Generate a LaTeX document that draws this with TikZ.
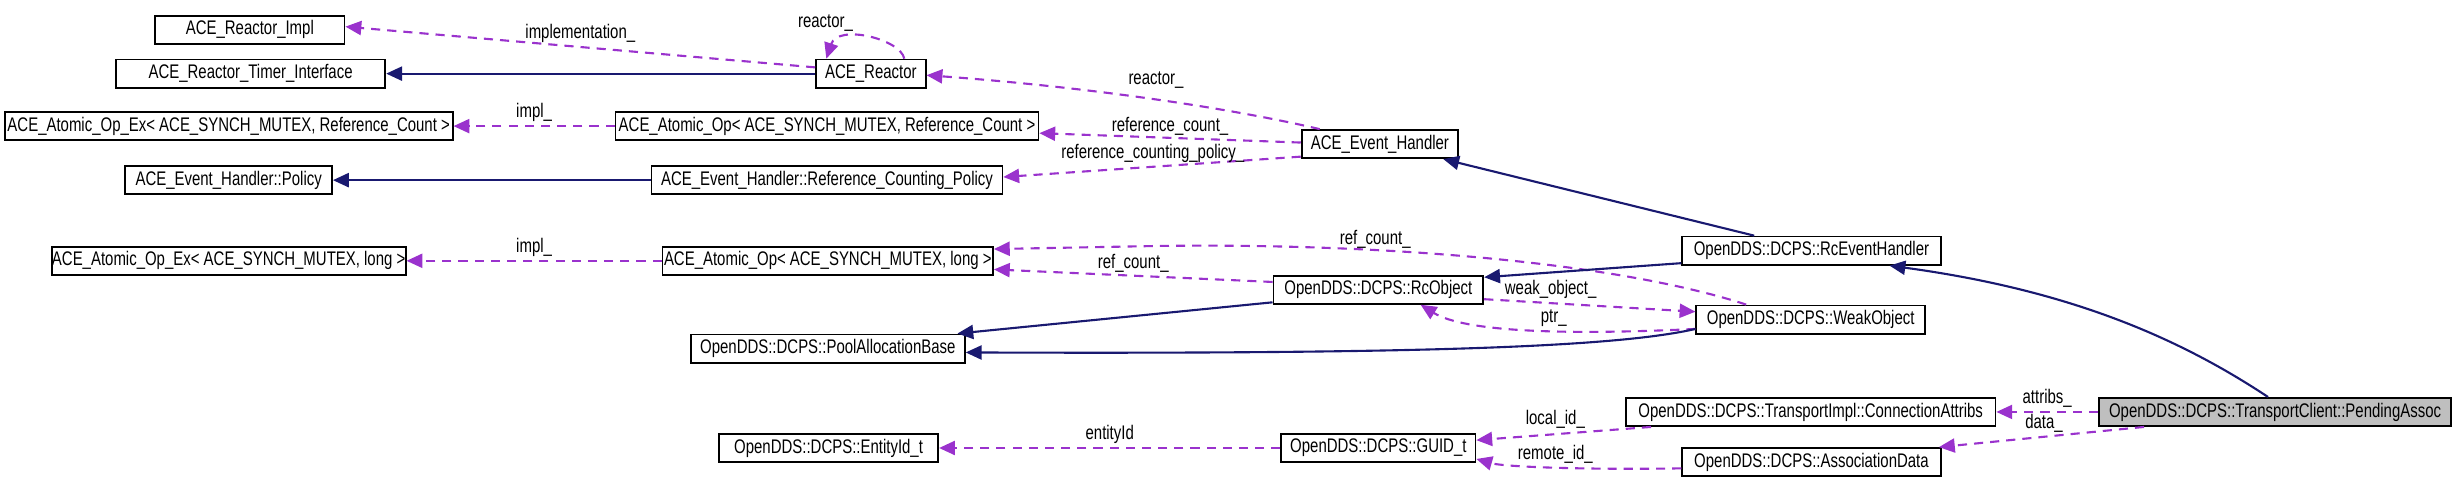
\documentclass[tikz,border=0pt]{standalone}
\usepackage{fontspec}
\setmainfont{Liberation Sans}[FakeStretch=0.76]
\usetikzlibrary{arrows.meta,calc}
\definecolor{nv}{HTML}{191970}
\definecolor{pu}{HTML}{9A32CD}
\begin{document}
\begin{tikzpicture}[x=0.1566mm,y=-0.1566mm,
  every node/.style={font=\fontsize{5.6}{6}\selectfont,inner sep=0pt},
  box/.style={draw=black,line width=0.5pt,minimum height=18*0.1566mm,fill=white},
  inh/.style={draw=nv,line width=0.6pt,-{Triangle[length=4.5pt,width=4pt]}},
  use/.style={draw=pu,line width=0.6pt,dash pattern=on 2.6pt off 2pt,-{Triangle[length=4.5pt,width=4pt]}},
  lab/.style={fill=none}]
\useasboundingbox (0,0) rectangle (1568,311);
% nodes
\node[box,minimum width=121*0.1566mm] (impl) at (159.5,19) {ACE\_Reactor\_Impl};
\node[box,minimum width=172*0.1566mm] (tim) at (160,47) {ACE\_Reactor\_Timer\_Interface};
\node[box,minimum width=70*0.1566mm] (rea) at (556,47) {ACE\_Reactor};
\node[box,minimum width=286*0.1566mm] (exrc) at (146,80.5) {ACE\_Atomic\_Op\_Ex< ACE\_SYNCH\_MUTEX, Reference\_Count >};
\node[box,minimum width=270*0.1566mm] (oprc) at (528,80.5) {ACE\_Atomic\_Op< ACE\_SYNCH\_MUTEX, Reference\_Count >};
\node[box,minimum width=100*0.1566mm] (eh) at (881,92) {ACE\_Event\_Handler};
\node[box,minimum width=132*0.1566mm] (pol) at (146,115) {ACE\_Event\_Handler::Policy};
\node[box,minimum width=224*0.1566mm] (rcp) at (528,115) {ACE\_Event\_Handler::Reference\_Counting\_Policy};
\node[box,minimum width=226*0.1566mm] (exl) at (146,166.5) {ACE\_Atomic\_Op\_Ex< ACE\_SYNCH\_MUTEX, long >};
\node[box,minimum width=211*0.1566mm] (opl) at (528.5,166.5) {ACE\_Atomic\_Op< ACE\_SYNCH\_MUTEX, long >};
\node[box,minimum width=165*0.1566mm] (rceh) at (1156.5,160) {OpenDDS::DCPS::RcEventHandler};
\node[box,minimum width=134*0.1566mm] (rco) at (880,185) {OpenDDS::DCPS::RcObject};
\node[box,minimum width=146*0.1566mm] (wo) at (1156,204) {OpenDDS::DCPS::WeakObject};
\node[box,minimum width=175*0.1566mm] (pab) at (528.5,222.5) {OpenDDS::DCPS::PoolAllocationBase};
\node[box,minimum width=140*0.1566mm] (eid) at (529,286) {OpenDDS::DCPS::EntityId\_t};
\node[box,minimum width=124*0.1566mm] (guid) at (880,286) {OpenDDS::DCPS::GUID\_t};
\node[box,minimum width=236*0.1566mm] (ca) at (1156,263) {OpenDDS::DCPS::TransportImpl::ConnectionAttribs};
\node[box,minimum width=165*0.1566mm] (ad) at (1156.5,295) {OpenDDS::DCPS::AssociationData};
\node[box,minimum width=225*0.1566mm,fill=black!25] (pa) at (1452.5,263) {OpenDDS::DCPS::TransportClient::PendingAssoc};
% edges
\draw[use] (rea.west|-0,43) -- (impl.east|-0,17) node[lab,midway,above=1pt] {implementation\_};
\draw[inh] (rea) -- (tim);
\draw[use] ($(rea.north west)!0.8!(rea.north east)$) .. controls (575,25) and (535,15) .. ($(rea.north west)!0.1!(rea.north east)$);
\node at (527,15) {reactor\_};
\draw[use] ($(eh.north west)!0.12!(eh.north east)$) .. controls (790,70) and (700,56) .. (rea.east|-0,48);
\node at (738,51) {reactor\_};
\draw[use] (oprc) -- (exrc) node[lab,midway,above=1pt] {impl\_};
\draw[use] (eh.west|-0,91) -- (oprc.east|-0,85) node[lab,midway,above=0.5pt] {reference\_count\_};
\draw[use] (eh.west|-0,100) -- (rcp.east|-0,113);
\node at (736,98) {reference\_counting\_policy\_};
\draw[inh] (rcp) -- (pol);
\draw[use] (opl) -- (exl) node[lab,midway,above=1pt] {impl\_};
\draw[use] ($(wo.north west)!0.22!(wo.north east)$) .. controls (1040,170) and (900,155) .. (740,157) -- (opl.east|-0,159);
\node at (878,153) {ref\_count\_};
\draw[use] (rco.west|-0,180) -- (opl.east|-0,172) node[lab,midway,above=0.5pt] {ref\_count\_};
\draw[inh] (rceh.west|-0,168) -- (rco.east|-0,177);
\draw[inh] ($(rceh.north west)!0.28!(rceh.north east)$) -- ($(eh.south west)!0.9!(eh.south east)$);
\draw[inh] ($(pa.north west)!0.48!(pa.north east)$) .. controls (1390,215) and (1320,185) .. ($(rceh.south west)!0.8!(rceh.south east)$);
\draw[use] (rco.east|-0,191) -- (wo.west|-0,199);
\node at (990,185) {weak\_object\_};
\draw[use] (wo.west|-0,210) .. controls (1000,214) and (935,212) .. ($(rco.south west)!0.7!(rco.south east)$);
\node at (992,203) {ptr\_};
\draw[inh] (rco.west|-0,193) -- ($(pab.north west)!0.97!(pab.north east)$);
\draw[inh] (wo.west|-0,210) .. controls (1030,222) and (900,226) .. (pab.east|-0,225);
\draw[use] (pa.west) -- (ca.east) node[lab,midway,above=1pt] {attribs\_};
\draw[use] ($(pa.south west)!0.13!(pa.south east)$) -- ($(ad.north west)!0.99!(ad.north east)$);
\node at (1305,270) {data\_};
\draw[use] ($(ca.south west)!0.07!(ca.south east)$) -- (guid.east|-0,281);
\node at (993,268) {local\_id\_};
\draw[use] (ad.west|-0,299) .. controls (1010,300) and (960,298) .. (guid.east|-0,293);
\node at (993,290) {remote\_id\_};
\draw[use] (guid) -- (eid) node[lab,midway,above=1pt] {entityId};
\end{tikzpicture}
\end{document}
